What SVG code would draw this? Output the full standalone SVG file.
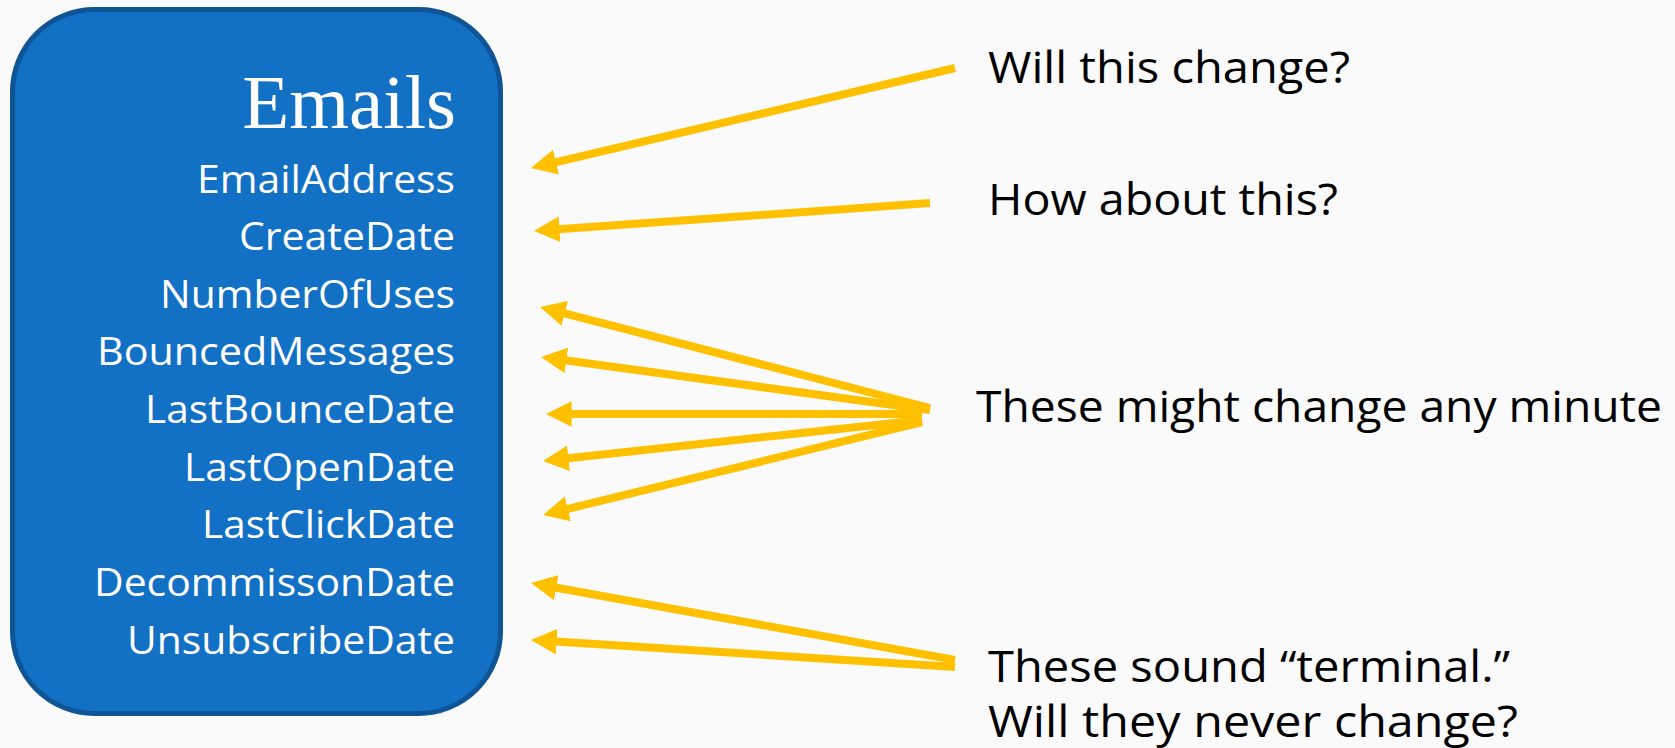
<svg xmlns="http://www.w3.org/2000/svg" width="1675" height="748" viewBox="0 0 1675 748">
<style>
.fld{font-family:"Open Sans","Liberation Sans",sans-serif;font-size:38px;fill:#ffffff;text-anchor:end}
.ttl{font-family:"Liberation Serif","DejaVu Serif",serif;font-size:77px;fill:#ffffff;text-anchor:end}
.note{font-family:"Open Sans","Liberation Sans",sans-serif;font-size:44px;fill:#000000}
.arr{stroke:#ffc000;stroke-width:8;fill:none;marker-end:url(#ah)}
</style>
<defs>
<marker id="ah" viewBox="0 0 10 10" refX="2" refY="5" markerWidth="3.2" markerHeight="3.2" markerUnits="strokeWidth" orient="auto">
<path d="M0,0 L10,5 L0,10 z" fill="#ffc000"/>
</marker>
</defs>
<rect width="1675" height="748" fill="#fafafa"/>
<g id="emails">
<rect x="12.5" y="9.5" width="488" height="704" rx="82" ry="82" fill="#1270c5" stroke="#0f5494" stroke-width="5"/>
<text class="ttl" x="456" y="128">Emails</text>
<text class="fld" x="455" y="193" textLength="258" lengthAdjust="spacingAndGlyphs">EmailAddress</text>
<text class="fld" x="455" y="250" textLength="216" lengthAdjust="spacingAndGlyphs">CreateDate</text>
<text class="fld" x="455" y="308" textLength="295" lengthAdjust="spacingAndGlyphs">NumberOfUses</text>
<text class="fld" x="455" y="365" textLength="358" lengthAdjust="spacingAndGlyphs">BouncedMessages</text>
<text class="fld" x="455" y="423" textLength="310" lengthAdjust="spacingAndGlyphs">LastBounceDate</text>
<text class="fld" x="455" y="481" textLength="271" lengthAdjust="spacingAndGlyphs">LastOpenDate</text>
<text class="fld" x="455" y="538" textLength="253" lengthAdjust="spacingAndGlyphs">LastClickDate</text>
<text class="fld" x="455" y="596" textLength="361" lengthAdjust="spacingAndGlyphs">DecommissonDate</text>
<text class="fld" x="455" y="654" textLength="328" lengthAdjust="spacingAndGlyphs">UnsubscribeDate</text>
</g>
<g id="note1"><text class="note" x="988" y="83" textLength="362" lengthAdjust="spacingAndGlyphs">Will this change?</text></g>
<g id="note2"><text class="note" x="988" y="215" textLength="350" lengthAdjust="spacingAndGlyphs">How about this?</text></g>
<g id="note3"><text class="note" x="976" y="422" textLength="686" lengthAdjust="spacingAndGlyphs">These might change any minute</text></g>
<g id="note4"><text class="note" x="988" y="682" textLength="522" lengthAdjust="spacingAndGlyphs">These sound “terminal.”</text><text class="note" x="988" y="737" textLength="530" lengthAdjust="spacingAndGlyphs">Will they never change?</text></g>
<g id="connectors">
<line class="arr" x1="955" y1="68" x2="551" y2="163.3"/>
<line class="arr" x1="930" y1="203" x2="554.4" y2="229.6"/>
<line class="arr" x1="930" y1="408" x2="559.8" y2="312.1"/>
<line class="arr" x1="930" y1="410" x2="561.3" y2="359.8"/>
<line class="arr" x1="922" y1="414" x2="566.5" y2="414"/>
<line class="arr" x1="922" y1="420" x2="563.4" y2="458.8"/>
<line class="arr" x1="922" y1="422" x2="562.9" y2="510.1"/>
<line class="arr" x1="955" y1="660" x2="551.2" y2="586.7"/>
<line class="arr" x1="955" y1="667" x2="551.5" y2="641.3"/>
</g>
</svg>
